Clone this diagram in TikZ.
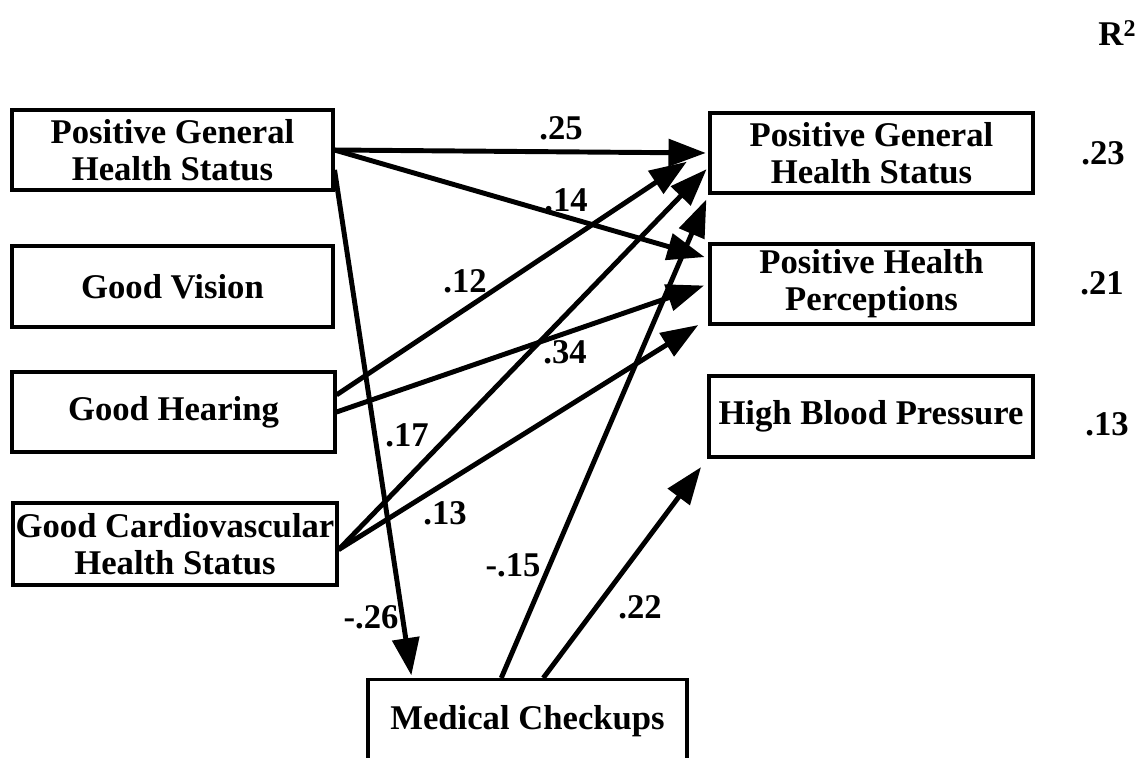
\documentclass[tikz,border=0pt]{standalone}
\usepackage{fontspec}
\setmainfont{Liberation Serif}
\usetikzlibrary{arrows.meta}
\begin{document}
\begin{tikzpicture}[x=0.75pt,y=-0.75pt,
  box/.style={draw, line width=2.3pt, inner sep=0pt, align=center,
    font=\fontsize{26}{27.75}\selectfont\bfseries},
  lbl/.style={inner sep=0pt, font=\fontsize{26}{27.75}\selectfont\bfseries},
  arr/.style={line width=3.7pt, -{Triangle[length=28pt,width=20pt]}}
]
\useasboundingbox (0,0) rectangle (1142,757);
\fill[white] (0,0) rectangle (1142,757);

% left column
\node[box, minimum width=240.75pt, minimum height=60pt] (pghsL) at (172.5,150) {Positive General\\Health Status};
\node[box, minimum width=240.75pt, minimum height=60.75pt] (vision) at (172.5,286.5) {Good Vision};
\node[box, minimum width=242.25pt, minimum height=60pt] (hearing) at (173.5,412) {Good Hearing};
\node[box, minimum width=243pt, minimum height=61.5pt] (cardio) at (175,544) {Good Cardiovascular\\Health Status};

% right column
\node[box, minimum width=242.25pt, minimum height=60pt] (pghsR) at (871.5,153) {Positive General\\Health Status};
\node[box, minimum width=242.25pt, minimum height=60pt] (php) at (871.5,284) {Positive Health\\Perceptions};
\node[box, minimum width=243pt, minimum height=60.75pt] (hbp) at (871,416.5) {High Blood Pressure};

% bottom
\node[box, anchor=north, minimum width=239.25pt, minimum height=75pt, text height=15pt, text depth=15pt] (med) at (527.5,678) {Medical Checkups};

% R^2 column
\node[lbl] (rsq) at (1117,33) {R\raisebox{7pt}{\fontsize{18}{18}\selectfont 2}};
\node[lbl] (r1) at (1103,153) {.23};
\node[lbl] (r2) at (1102,283) {.21};
\node[lbl] (r3) at (1107,424) {.13};

% connectors
\draw[arr, shorten >=2pt] (pghsL.east) -- (pghsR.west);
\draw[arr, shorten >=3pt] (pghsL.east) -- (php.171);
\draw[arr, shorten >=2pt] (pghsL.-7) -- (med.156);
\draw[arr, shorten >=19.5pt] (hearing.6) -- (pghsR.178);
\draw[arr, shorten >=3.5pt] (hearing.east) -- (php.west);
\draw[arr, shorten >=2pt] (cardio.-2) -- (pghsR.185);
\draw[arr, shorten >=9pt] (cardio.-2) -- (php.192);
\draw[arr, shorten >=4pt] (med.117) -- (pghsR.south west);
\draw[arr, shorten >=8pt] (med.73) -- (hbp.south west);

% path coefficients
\node[lbl] (c25) at (561,128) {.25};
\node[lbl] (c14) at (566,200) {.14};
\node[lbl] (c12) at (465,281) {.12};
\node[lbl] (c34) at (565,352) {.34};
\node[lbl] (c17) at (407,435) {.17};
\node[lbl] (c13) at (445,513) {.13};
\node[lbl] (c15) at (513,565) {-.15};
\node[lbl] (c26) at (371,617) {-.26};
\node[lbl] (c22) at (640,607) {.22};
\end{tikzpicture}
\end{document}
